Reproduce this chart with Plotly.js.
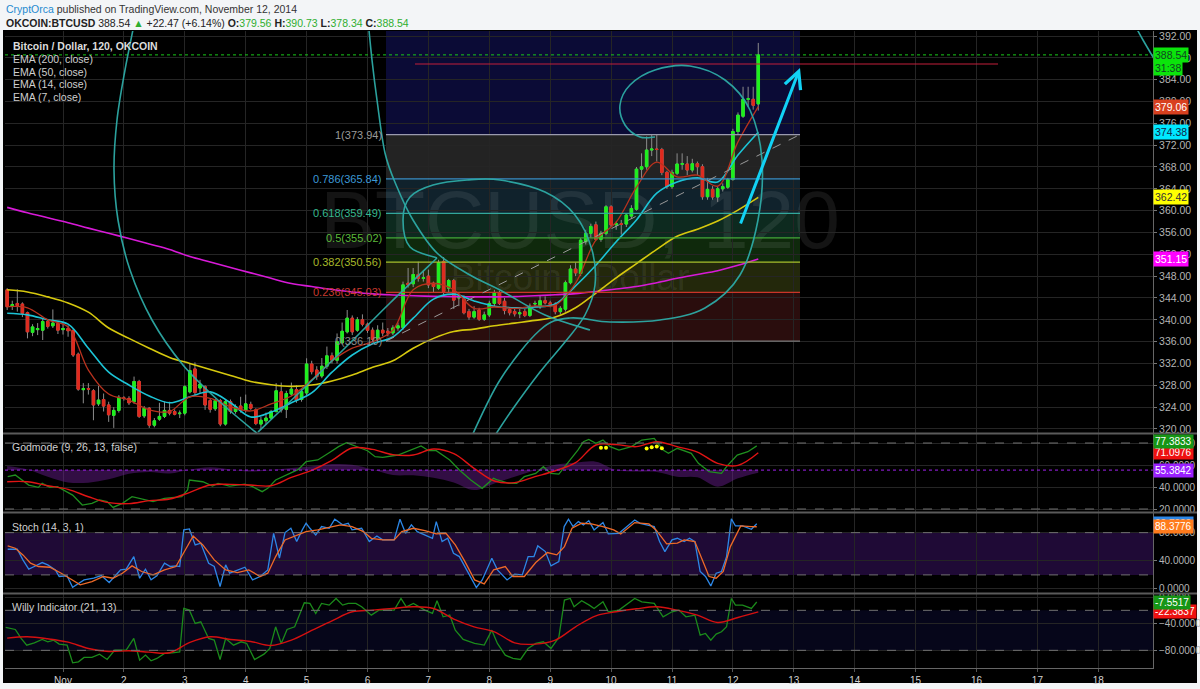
<!DOCTYPE html>
<html><head><meta charset="utf-8">
<script src="https://cdn.plot.ly/plotly-3.0.1.min.js"></script>
<style>html,body{margin:0;padding:0;background:#f3f5f7;}#chart{width:1200px;height:689px;}</style>
</head><body><div id="chart"></div>
<script>
// ---------------- DATA ----------------
// 2-hour OKCOIN BTCUSD bars, first bar Oct 31 02:00 (hours counted from Nov 1 00:00)
const firstBarHour = -22;
const barStepHours = 2;
const barOpen  = [345.5,342.5,343.0,342.9,341.3,337.7,338.2,338.1,339.7,338.9,339.3,338.2,338.4,338.0,333.7,327.2,327.4,327.0,324.6,325.4,324.4,322.5,323.4,325.7,325.6,325.0,328.7,322.4,323.8,320.7,321.8,322.3,323.4,323.2,322.8,322.9,326.8,331.0,327.5,327.75,325.2,323.7,325.2,320.9,325.0,323.2,324.2,323.4,324.5,323.5,320.9,321.5,322.0,323.2,326.8,323.6,326.4,327.2,325.4,326.6,331.9,330.8,329.7,331.5,333.4,332.6,335.8,337.8,340.3,338.1,340.0,339.2,338.1,336.4,338.1,337.9,337.6,338.5,338.6,346.7,346.6,348.3,347.6,348.0,346.7,345.8,350.7,345.8,347.2,344.0,343.8,341.5,340.5,341.8,340.1,340.9,343.0,345.0,343.4,341.9,341.5,341.1,341.5,340.8,342.9,342.4,343.5,343.1,342.85,341.5,341.95,346.8,349.3,348.5,354.3,355.85,357.4,354.75,355.85,360.7,357.4,357.6,357.55,359.0,360.25,367.6,368.05,371.1,371.3,371.2,367.0,364.4,366.85,368.5,368.55,367.45,368.6,368.05,362.55,363.9,362.5,364.0,364.3,365.7,374.5,377.3,380.4,380.4,379.56];
const barHigh  = [345.8,343.5,345.6,343.2,341.5,339.2,339.4,340.3,340.0,341.9,339.7,339.4,339.0,338.3,334.0,328.4,328.4,327.3,327.9,326.5,325.0,324.0,326.2,326.0,326.0,329.6,329.0,324.2,324.0,322.0,324.8,325.0,325.0,323.6,323.4,328.0,332.0,332.2,329.0,328.0,325.5,325.5,325.5,325.5,325.4,324.5,325.9,326.3,325.0,323.8,322.2,323.0,323.5,328.4,328.5,327.0,328.5,328.0,327.5,332.95,332.5,331.5,333.0,335.1,334.0,337.5,339.5,341.8,340.8,340.5,341.0,339.5,338.6,339.0,339.5,338.5,339.0,339.5,347.0,349.5,349.5,350.65,349.0,349.2,347.0,351.0,351.5,347.5,347.5,345.0,344.5,342.0,342.5,342.2,341.5,343.5,345.5,345.3,344.0,342.3,342.0,342.0,342.0,343.0,343.5,344.5,344.3,343.5,343.2,342.5,347.2,350.0,350.5,355.0,356.5,357.6,358.0,356.3,361.0,361.0,358.0,358.3,359.5,361.0,368.0,370.5,373.6,373.9,373.9,371.5,367.3,367.5,370.5,370.5,370.0,369.5,369.0,368.5,366.0,364.5,364.5,365.0,366.0,375.0,378.0,382.7,382.7,382.7,390.73];
const barLow   = [341.8,341.8,341.5,340.5,336.6,337.0,337.2,336.3,338.4,338.5,337.4,337.3,336.9,333.2,327.0,324.7,326.3,321.6,324.2,323.2,321.3,320.2,323.0,325.2,324.4,324.6,322.0,322.0,320.2,320.3,321.5,322.0,322.5,322.5,322.0,322.5,326.5,326.0,326.5,323.5,323.0,323.3,320.5,320.6,322.8,322.8,323.0,323.0,323.5,320.7,320.0,320.8,321.8,323.0,323.0,322.0,326.0,324.8,325.0,326.2,330.0,329.0,329.3,331.0,332.0,332.0,335.5,337.5,337.2,337.8,338.8,337.6,336.0,336.0,337.0,337.0,337.2,338.0,338.2,345.9,346.0,347.0,347.0,345.8,345.0,345.5,344.5,345.0,342.0,342.5,341.0,340.0,340.2,339.8,339.8,340.5,342.5,342.7,341.0,340.8,340.6,340.3,340.5,340.5,342.3,342.0,342.8,342.3,341.0,341.0,341.5,346.5,348.0,348.0,353.8,355.0,354.5,354.3,355.5,357.0,356.5,355.6,357.0,358.5,360.0,366.0,367.5,370.0,369.0,366.5,364.0,364.0,366.5,367.5,366.5,367.0,366.5,362.0,362.0,362.0,361.6,363.5,364.0,365.5,374.0,377.0,379.0,378.5,378.34];
const barClose = [342.4,342.8,342.6,341.2,337.8,338.7,338.4,339.7,338.8,339.4,338.1,338.4,338.0,333.55,327.3,327.4,327.3,324.4,325.3,324.2,322.6,323.4,325.8,325.6,324.8,328.7,322.3,323.8,320.7,321.5,322.3,323.4,322.9,322.7,322.9,327.75,330.7,326.7,328.2,324.4,323.6,325.2,320.9,325.0,323.2,324.1,323.4,324.6,323.8,321.0,321.6,322.0,323.2,327.0,323.5,326.5,327.3,325.3,326.85,331.9,330.5,329.6,331.5,333.4,332.6,336.0,337.9,340.3,337.8,340.0,339.2,338.1,336.4,338.1,337.6,337.6,338.5,338.9,346.4,346.4,348.3,347.6,347.7,346.4,346.1,350.5,345.2,347.2,343.6,344.2,341.3,340.5,341.5,340.1,340.9,343.0,345.0,343.0,341.7,341.3,341.1,341.3,340.8,342.5,343.0,343.5,343.1,342.8,341.5,342.1,346.8,349.3,348.6,354.6,355.85,357.1,354.75,355.85,360.7,357.4,357.6,357.5,359.2,360.4,367.6,368.05,371.1,371.3,371.2,367.0,364.4,367.0,368.55,368.6,367.45,368.6,368.05,362.55,363.9,362.5,364.0,364.4,365.7,374.5,377.5,380.4,380.5,379.3,388.54];

// EMA and smooth indicator values sampled every 4th bar
const indicatorStep = 4;
const ema200 = [360.6,359.6,358.7,357.8,356.8,355.85,354.9,353.9,352.9,351.6,350.6,349.6,348.6,347.6,346.65,346.1,345.55,345.1,344.75,344.55,344.4,344.3,344.25,344.2,344.2,344.25,344.4,344.6,344.8,345.2,345.65,346.1,346.8,347.6,348.3,349.0,350.0,351.15];
const ema50  = [345.5,345.1,344.2,343.1,341.4,338.5,336.6,334.8,333.1,332.0,330.9,329.8,328.7,328.1,327.8,328.05,328.8,329.9,331.3,332.5,334.8,336.6,337.85,338.3,338.9,339.4,339.9,340.5,342.2,344.9,347.7,350.3,352.9,355.3,356.6,358.1,360.1,362.42];
const ema14  = [341.2,340.9,340.0,339.2,334.8,330.4,328.05,326.05,324.8,325.9,326.8,324.8,322.2,323.1,324.8,326.6,330.4,333.55,335.6,336.85,340.3,343.8,344.7,343.45,342.5,342.2,342.35,342.9,346.2,350.0,354.3,358.3,363.2,365.25,366.0,365.25,370.2,374.38];
const ema7   = [342.4,342.2,340.0,338.7,330.8,326.4,325.3,323.5,323.2,325.9,325.6,324.1,323.3,324.6,326.05,329.0,332.45,334.8,336.0,338.1,345.5,346.7,345.5,342.1,342.35,342.1,342.55,342.7,346.7,354.6,357.9,364.3,368.9,366.2,366.5,364.5,372.6,379.06];
const godRed   = [44.8,44.8,41.2,37.9,31.2,25.8,24.9,27.6,29.1,35.2,41.8,42.4,41.8,41.2,48.8,55.2,64.2,75.5,74.2,69.4,69.1,74.5,70.3,57.0,45.5,44.0,49.4,54.8,62.1,78.2,78.5,76.7,81.2,76.7,71.8,61.5,59.7,71.0976];
const godWave  = [59.1,56.0,49.4,44.2,44.0,47.0,52.1,53.7,52.4,55.8,57.9,56.0,54.0,55.5,57.2,58.8,60.9,60.3,56.0,50.9,50.6,48.5,44.2,37.3,43.3,49.4,55.2,60.3,62.1,63.0,55.5,54.0,53.7,49.4,48.8,40.3,47.9,53.0];
const willyRed = [-61.7,-59.7,-62.7,-67.7,-77.2,-81.7,-80.7,-82.7,-83.7,-68.2,-59.7,-63.7,-66.7,-72.7,-64.7,-50.2,-35.7,-22.2,-19.7,-17.2,-14.7,-17.2,-33.2,-44.7,-52.2,-68.7,-70.7,-64.7,-44.7,-28.2,-22.2,-17.7,-14.7,-19.7,-27.2,-38.2,-30.7,-22.3837];
const godMidLevel = 55.3842;

// jagged indicator lines read point by point (hours from Nov 1 00:00, value)
const godGreenHours = [-21.8,-18.8,-13.5,-9.7,-8.2,-5.2,-2.2,3.8,7.6,11.4,14.4,17.4,19.7,23.4,27.2,32.5,35.5,40.0,44.5,46.8,49.1,49.8,55.1,58.9,61.1,65.7,71.7,74.7,78.5,80.7,83.8,89.8,92.8,95.8,100.4,104.9,108.6,111.7,115.4,120.0,123.0,126.0,132.0,137.3,141.1,144.1,147.1,152.4,156.2,160.7,165.2,169.7,171.2,175.8,178.8,181.8,186.3,189.3,192.3,195.4,199.9,202.9,205.1,207.2,210.0,212.8,215.6,219.1,224.0,228.1,233.0,236.5,238.6,242.1,247.6,250.4,254.6,259.5,261.5,265.7,269.9,273.4];
const godGreenValues = [49.4,50.9,41.8,39.7,43.3,39.7,40.3,32.7,23.6,25.2,28.2,26.7,21.5,25.2,31.2,28.2,26.7,29.7,30.3,31.2,37.3,46.4,44.8,40.9,43.3,40.9,42.7,40.3,35.8,38.8,46.4,53.0,56.0,63.0,64.6,71.2,76.7,80.3,77.3,73.0,67.6,67.0,69.1,73.6,77.3,73.0,73.0,64.6,55.5,46.4,38.8,47.9,46.4,43.3,43.3,49.4,52.4,58.5,52.4,51.8,64.6,73.6,81.2,83.3,79.7,82.7,76.7,73.6,76.7,82.7,84.2,73.6,70.6,75.2,70.6,61.5,54.0,52.5,58.5,69.1,72.1,77.3833];
const godDotHours  = [212,214,230,232,234,236];
const godDotValues = [75.6,75.6,75.0,76.2,76.8,75.3];

const stochKHours = [-21.8,-18.0,-15.8,-13.5,-11.3,-8.2,-6.0,-3.0,-1.5,1.6,3.8,6.1,8.3,12.1,15.1,18.2,20.4,22.7,24.9,27.9,30.2,32.5,34.7,37.0,40.0,42.3,44.5,46.0,47.6,49.8,52.1,54.3,57.4,59.6,61.9,64.1,65.7,68.7,71.7,74.7,77.7,80.7,83.0,85.3,87.5,89.8,92.1,94.3,95.8,97.3,99.6,101.9,104.9,107.1,110.2,112.4,113.9,117.7,120.7,123.7,126.0,130.5,132.8,135.0,137.3,139.6,142.6,145.6,147.1,149.4,151.6,153.9,156.2,159.2,162.9,165.2,169.0,171.2,175.0,178.0,181.0,183.3,185.6,187.1,190.1,192.3,195.4,197.5,199.2,201.0,203.1,205.1,207.2,209.3,212.8,214.9,219.1,225.3,227.4,233.0,235.1,237.2,240.0,242.1,244.8,246.9,249.0,251.1,253.2,255.3,257.4,259.5,261.5,263.4,265.0,267.8,271.3,273.4];
const stochKValues = [56.4,56.4,41.3,28.1,31.9,37.5,34.2,27.1,17.7,18.6,2.5,8.2,12.9,15.3,19.1,9.2,17.7,27.1,28.1,46.0,15.3,28.1,12.9,18.6,36.6,31.9,32.8,31.9,83.9,85.3,62.6,65.0,36.6,31.9,3.5,34.2,22.4,27.1,30.9,12.9,17.7,27.1,79.1,43.7,80.1,86.2,67.3,83.9,93.3,86.2,76.8,88.6,86.2,99.0,91.0,93.3,83.9,86.2,67.3,75.3,69.7,69.7,99.0,79.1,91.0,81.5,76.8,72.0,95.7,67.3,72.0,50.8,46.0,27.1,2.1,12.9,43.7,27.1,12.9,21.0,20.0,46.0,46.0,61.2,53.1,32.8,38.9,88.6,99.0,88.6,95.7,91.0,97.1,83.9,94.3,78.2,79.1,98.0,93.3,88.6,67.3,53.1,69.7,72.0,67.3,72.0,67.3,24.8,17.7,4.4,22.4,24.8,46.0,99.6,89.5,89.5,84.8,92.7];
const stochDHours = [-21.8,-18.8,-15.8,-12.8,-9.7,-5.2,-0.7,3.1,6.8,11.4,15.9,19.7,23.4,27.2,31.0,35.5,40.0,44.5,47.6,51.3,55.1,59.6,64.1,68.7,73.2,77.7,80.7,83.8,87.5,92.1,95.8,100.4,104.9,109.4,113.9,118.4,121.5,126.0,130.5,133.5,138.1,142.6,147.1,150.9,154.6,158.4,162.2,166.0,169.7,174.3,177.3,181.8,186.3,190.9,194.6,197.6,200.6,204.4,208.2,212.8,217.0,219.8,225.3,230.9,233.7,237.9,242.1,244.8,249.0,251.8,254.6,257.4,260.2,263.0,267.1,271.3,273.4];
const stochDValues = [61.2,57.9,48.4,36.6,31.9,30.9,22.4,13.9,5.9,10.6,17.7,15.3,22.4,32.8,24.8,20.0,27.1,31.9,50.8,75.3,62.6,41.3,27.1,23.3,27.1,17.7,22.4,46.0,69.7,76.8,81.5,83.9,87.6,91.0,88.6,81.5,72.0,69.7,69.7,81.5,86.2,82.9,78.2,79.1,62.6,38.9,12.9,7.3,27.1,31.9,17.7,17.7,37.5,51.7,48.4,60.2,86.2,93.3,92.4,88.6,83.9,78.2,94.3,92.4,83.9,64.0,65.0,69.7,67.3,43.7,17.7,15.3,24.8,60.2,89.5,88.6,88.3776];

const willyGreenHours = [-22.6,-18.8,-16.5,-14.3,-11.3,-8.2,-6.0,-3.7,-1.5,1.6,3.8,6.1,8.3,11.4,14.4,17.4,20.4,24.9,27.9,30.2,32.5,34.7,37.0,40.0,43.0,46.0,47.6,49.8,52.1,54.3,57.4,59.6,61.9,64.1,67.2,70.2,72.4,75.5,79.2,81.5,83.8,86.0,88.3,91.3,95.1,97.3,99.6,101.9,104.9,107.6,110.2,112.4,115.4,117.7,121.5,124.5,127.5,130.5,133.2,135.3,138.1,140.3,142.6,145.6,147.4,149.8,152.4,154.6,157.7,162.2,166.0,169.0,171.2,174.3,177.3,180.3,183.3,186.3,189.3,192.3,195.4,197.6,199.9,201.4,204.4,207.4,209.3,212.8,214.9,219.1,225.3,228.1,233.0,236.5,240.0,242.7,245.5,249.0,251.1,253.2,255.3,257.4,259.5,261.5,263.4,265.0,267.8,271.3,273.4];
const willyGreenValues = [-45.7,-48.7,-62.2,-72.2,-68.7,-63.7,-67.2,-64.7,-70.7,-72.2,-98.7,-97.2,-90.7,-90.7,-85.7,-93.7,-79.7,-79.7,-62.2,-94.7,-87.2,-95.7,-92.2,-84.7,-83.7,-82.2,-17.2,-19.7,-39.7,-37.2,-62.2,-64.7,-93.7,-62.2,-72.2,-67.2,-69.7,-93.7,-85.7,-77.2,-44.7,-69.7,-48.7,-44.7,-8.7,-9.7,-24.7,-9.7,-12.2,-2.2,-12.2,-9.7,-9.7,-14.7,-27.2,-19.7,-19.7,-19.7,-2.2,-14.7,-9.7,-14.7,-19.7,-24.7,-5.7,-29.7,-27.2,-49.7,-63.7,-69.7,-72.2,-49.7,-69.7,-87.2,-92.2,-93.7,-77.2,-69.7,-67.2,-77.2,-60.7,-4.7,-2.2,-14.7,-5.7,-12.2,-17.2,-7.2,-22.2,-19.7,-2.2,-7.2,-9.7,-29.7,-22.2,-19.7,-29.7,-27.2,-57.2,-54.7,-64.7,-55.7,-52.2,-44.7,-2.2,-12.2,-12.2,-17.2,-7.5517];

const dayTickLabels = ["Nov","2","3","4","5","6","7","8","9","10","11","12","13","14","15","16","17","18"];

// Fibonacci retracement drawn on the chart
const fibRatios = [1.618,1,0.786,0.618,0.5,0.382,0.236,0];
const fibLevels = [397.33,373.94,365.84,359.49,355.02,350.56,345.03,336.10];
const horizontalLineLevel = 386.87;

// ---------------- GEOMETRY ----------------
const PL=5, PR=1153, PT=31, PB=668;
const hx = px => (px-63)/2.5375;                 // pixel x -> hours
const pp = py => 392-(py-36)/5.458;              // pixel y -> price (main pane)
const paperX = px => (px-PL)/(PR-PL);
const paperY = py => (PB-py)/(PB-PT);

const barTimes = barOpen.map((_,k)=>firstBarHour+k*barStepHours);
const sampleTimes = barTimes.filter((_,k)=>k%indicatorStep===0);
const bodyHigh = barOpen.map((o,i)=>Math.max(o,barClose[i]));
const bodyLow  = barOpen.map((o,i)=>Math.min(o,barClose[i]));
const last = a => a[a.length-1];

const SANS='"Liberation Sans",Arial,sans-serif';

const traces = [
  {type:'candlestick',x:barTimes,open:barOpen,high:barHigh,low:barLow,close:barClose,
   increasing:{line:{color:'#8c8c8c',width:1},fillcolor:'#8c8c8c'},
   decreasing:{line:{color:'#8c8c8c',width:1},fillcolor:'#8c8c8c'},whiskerwidth:0,hoverinfo:'skip'},
  {type:'candlestick',x:barTimes,open:barOpen,high:bodyHigh,low:bodyLow,close:barClose,
   increasing:{line:{color:'#1df01d',width:1},fillcolor:'#1df01d'},
   decreasing:{line:{color:'#e02a1e',width:1},fillcolor:'#e02a1e'},whiskerwidth:0,hoverinfo:'skip'},
  {type:'scatter',mode:'lines',x:sampleTimes,y:ema200,line:{color:'#d81ad8',width:1.6,shape:'spline'}},
  {type:'scatter',mode:'lines',x:sampleTimes,y:ema50,line:{color:'#d6c80e',width:1.6,shape:'spline'}},
  {type:'scatter',mode:'lines',x:sampleTimes,y:ema14,line:{color:'#1cc4d6',width:1.6,shape:'spline'}},
  {type:'scatter',mode:'lines',x:sampleTimes,y:ema7,line:{color:'#b8321e',width:1.3,shape:'spline'}},
  // godmode
  {type:'scatter',mode:'lines',x:sampleTimes,y:sampleTimes.map(()=>godMidLevel),yaxis:'y2',line:{width:0},hoverinfo:'skip'},
  {type:'scatter',mode:'lines',x:sampleTimes,y:godWave,yaxis:'y2',fill:'tonexty',fillcolor:'rgba(110,30,150,0.45)',line:{width:0,shape:'spline'}},
  {type:'scatter',mode:'lines',x:godGreenHours,y:godGreenValues,yaxis:'y2',line:{color:'#1f8f1f',width:1.3}},
  {type:'scatter',mode:'lines',x:sampleTimes,y:godRed,yaxis:'y2',line:{color:'#e01414',width:1.4,shape:'spline'}},
  {type:'scatter',mode:'markers',x:godDotHours,y:godDotValues,yaxis:'y2',marker:{color:'#ffff00',size:4}},
  // stoch
  {type:'scatter',mode:'lines',x:stochKHours,y:stochKValues,yaxis:'y3',line:{color:'#2d87e6',width:1.3}},
  {type:'scatter',mode:'lines',x:stochDHours,y:stochDValues,yaxis:'y3',line:{color:'#ee6a28',width:1.3}},
  // willy
  {type:'scatter',mode:'lines',x:willyGreenHours,y:willyGreenValues,yaxis:'y4',line:{color:'#1b8a1b',width:1.3}},
  {type:'scatter',mode:'lines',x:sampleTimes,y:willyRed,yaxis:'y4',line:{color:'#d41010',width:1.4,shape:'spline'}}
];

function smoothPath(pts){
  const d = pts.map(([x,y])=>[hx(x),pp(y)]);
  let s = 'M'+d[0][0]+','+d[0][1];
  for(let i=0;i<d.length-1;i++){
    const p0=d[i-1]||d[i], p1=d[i], p2=d[i+1], p3=d[i+2]||d[i+1];
    const c1=[p1[0]+(p2[0]-p0[0])/6, p1[1]+(p2[1]-p0[1])/6];
    const c2=[p2[0]-(p3[0]-p1[0])/6, p2[1]-(p3[1]-p1[1])/6];
    s+=' C'+c1[0]+','+c1[1]+' '+c2[0]+','+c2[1]+' '+p2[0]+','+p2[1];
  }
  return s;
}
const TEAL='rgba(45,170,165,0.95)';
const drawCurves = [
  [[135,20],[125,70],[117,120],[114,170],[118,220],[130,270],[152,320],[183,365],[220,402],[265,440]],
  [[258,432],[300,392],[345,348],[390,303],[437,258]],
  [[437,258],[410,247],[403,220],[410,197],[433,185],[467,180],[500,180],[545,192],[575,215],[592,250],[595,285],[585,315],[565,342],[540,372],[512,410],[492,440]],
  [[368,20],[372,60],[377,100],[385,153],[397,187],[413,220],[437,253],[470,275],[500,290],[545,315],[590,330]],
  [[655,137],[640,137],[625,125],[620,105],[630,85],[655,70],[690,66],[725,80],[750,110],[762,160],[758,220],[740,275],[705,308],[660,320],[610,322],[570,318],[540,330],[500,380],[470,440]],
  [[1132,20],[1143,40],[1156,62]]
];

const fibColors = {line:['#4a4a9a','#9a9aae','#3d8fc4','#33a79a','#45a83a','#a9c02c','#c93528','#7a7a7a'],
  fill:['#0b0b36','#232323','#10222c','#0d2a1f','#0f290c','#23280b','#2a0d0d']};
const fibX0 = hx(386), fibX1 = hx(800);

const shapes = [
  {type:'rect',xref:'paper',yref:'paper',x0:paperX(3),x1:paperX(1197),y0:paperY(683),y1:paperY(30),fillcolor:'#000',line:{width:0},layer:'below'},
  {type:'rect',xref:'paper',yref:'y3',x0:0,x1:1,y0:20,y1:80,fillcolor:'#1f0a36',line:{width:0},layer:'below'},
  {type:'rect',xref:'paper',yref:'y4',x0:0,x1:1,y0:-80,y1:-20,fillcolor:'#06061a',line:{width:0},layer:'below'}
];
for(let i=0;i<fibLevels.length-1;i++){
  shapes.push({type:'rect',xref:'x',yref:'y',x0:fibX0,x1:fibX1,y0:fibLevels[i+1],y1:fibLevels[i],fillcolor:fibColors.fill[i],line:{width:0},layer:'below'});
}
// watermark (same layer as the fib fills, drawn after them)
shapes.push({type:'rect',xref:'x',yref:'y',x0:hx(320),x1:hx(840),y0:pp(250),y1:pp(172),line:{width:0},layer:'below',
   label:{text:'BTCUSD, 120',font:{family:SANS,size:82,color:'rgba(255,255,255,0.08)'},textposition:'middle center'}});
shapes.push({type:'rect',xref:'x',yref:'y',x0:hx(420),x1:hx(720),y0:pp(293),y1:pp(253),line:{width:0},layer:'below',
   label:{text:'Bitcoin / Dollar',font:{family:SANS,size:37,color:'rgba(255,255,255,0.08)'},textposition:'middle center'}});
for(let i=1;i<fibLevels.length;i++){
  shapes.push({type:'line',xref:'x',yref:'y',x0:fibX0,x1:fibX1,y0:fibLevels[i],y1:fibLevels[i],line:{color:fibColors.line[i],width:1.2}});
}
shapes.push({type:'line',xref:'x',yref:'y',x0:fibX0,x1:fibX1,y0:last(fibLevels),y1:fibLevels[1],line:{color:'#9a9a9a',width:1,dash:'dash'}});
shapes.push({type:'line',xref:'x',yref:'y',x0:hx(415),x1:hx(998),y0:horizontalLineLevel,y1:horizontalLineLevel,line:{color:'#c21e3a',width:1.2}});
shapes.push({type:'line',xref:'paper',yref:'y',x0:0,x1:1,y0:last(barClose),y1:last(barClose),line:{color:'#19c819',width:1,dash:'dot'}});
[[ 'y2',80],['y2',20],['y3',80],['y3',20],['y4',-20],['y4',-80]].forEach(([ax,v])=>{
  shapes.push({type:'line',xref:'paper',yref:ax,x0:0,x1:1,y0:v,y1:v,line:{color:'#707070',width:1,dash:'dash'}});
});
shapes.push({type:'line',xref:'paper',yref:'y2',x0:0,x1:1,y0:godMidLevel,y1:godMidLevel,line:{color:'#a020f0',width:1,dash:'dot'}});
drawCurves.forEach(c=>shapes.push({type:'path',xref:'x',yref:'y',path:smoothPath(c),line:{color:TEAL,width:1.6}}));
[433.5,512.5,593.5].forEach(py=>shapes.push({type:'line',xref:'paper',yref:'paper',x0:paperX(3),x1:paperX(1197),y0:paperY(py),y1:paperY(py),line:{color:'#5a5a5a',width:2}}));

const ann = [];
function txt(px,py,text,opt){ann.push(Object.assign({xref:'paper',yref:'paper',x:paperX(px),y:paperY(py),xanchor:'left',yanchor:'middle',text,showarrow:false,font:{family:SANS,size:11,color:'#d8d8d8'}},opt||{}));}
// header
txt(4,9,'<span style="color:#1e8ad0">CryptOrca</span> published on TradingView.com, November 12, 2014',{font:{family:SANS,size:10.5,color:'#333'}});
const lastC = last(barClose);
const G = s=>'<span style="color:#2fae2f">'+s+'</span>';
txt(4,23,'<b>OKCOIN:BTCUSD</b> '+lastC.toFixed(2)+' <span style="color:#2fae2f">▲</span> +22.47 (+6.14%) <b>O:</b>'+G(last(barOpen).toFixed(2))+' <b>H:</b>'+G(last(barHigh).toFixed(2))+' <b>L:</b>'+G(last(barLow).toFixed(2))+' <b>C:</b>'+G(lastC.toFixed(2)),{font:{family:SANS,size:10.5,color:'#222'}});
// legends
txt(11,46,'<b>Bitcoin / Dollar, 120, OKCOIN</b>',{font:{family:SANS,size:10.5,color:'#dcdcdc'}});
['EMA (200, close)','EMA (50, close)','EMA (14, close)','EMA (7, close)'].forEach((t,i)=>txt(11,59+i*12.7,t,{font:{family:SANS,size:10.5,color:'#cfcfcf'}}));
txt(10,447,'Godmode (9, 26, 13, false)',{font:{family:SANS,size:10.5,color:'#cfcfcf'}});
txt(10,527,'Stoch (14, 3, 1)',{font:{family:SANS,size:10.5,color:'#cfcfcf'}});
txt(10,607,'Willy Indicator (21, 13)',{font:{family:SANS,size:10.5,color:'#cfcfcf'}});
// fib labels
const fibLabelColors=['#9a9a9a','#3d9ad6','#36b88f','#5cb83a','#a8b82a','#c83a2e','#8a8a8a'];
for(let i=1;i<fibLevels.length;i++){
  ann.push({xref:'x',yref:'y',x:fibX0-0.8,y:fibLevels[i],xanchor:'right',yanchor:'middle',showarrow:false,
    text:fibRatios[i]+'('+fibLevels[i].toFixed(2)+')',font:{family:SANS,size:11,color:fibLabelColors[i-1]}});
}
// arrow
ann.push({xref:'x',yref:'y',axref:'x',ayref:'y',x:hx(800),y:pp(68),ax:hx(740),ay:pp(225),showarrow:true,arrowhead:5,arrowsize:1.1,arrowwidth:3,arrowcolor:'#12d2f5',text:''});
// price tags
function tag(yref,y,text,bg,fg,yshift,size){ann.push({xref:'paper',x:1,xanchor:'left',yref,y,yanchor:'middle',yshift:yshift||0,text,showarrow:false,bgcolor:bg,borderpad:1,font:{family:SANS,size:size||10.5,color:fg}});}
tag('y',last(ema200),last(ema200).toFixed(2),'#ff00ff','#fff');
tag('y',last(ema50),last(ema50).toFixed(2),'#ffff00','#333');
tag('y',last(ema14),last(ema14).toFixed(2),'#00e8ff','#124');
tag('y',last(ema7),last(ema7).toFixed(2),'#d8401f','#fff');
tag('y',lastC,lastC.toFixed(2),'#0be40b','#142');
tag('y',lastC,'31:38','#0be40b','#142',-13);
tag('y2',godMidLevel,godMidLevel.toFixed(4),'#9b1fff','#fff',0,10);
tag('y2',last(godRed),last(godRed).toFixed(4),'#ee1111','#fff',0,10);
tag('y2',last(godGreenValues),last(godGreenValues).toFixed(4),'#169616','#fff',4,10);
tag('y3',last(stochKValues),last(stochKValues).toFixed(4),'#2d87e6','#fff',0,10);
tag('y3',last(stochDValues),last(stochDValues).toFixed(4),'#ff7b1c','#fff',0,10);
tag('y4',last(willyRed),last(willyRed).toFixed(4),'#ee1111','#fff',0,10);
tag('y4',last(willyGreenValues),last(willyGreenValues).toFixed(4),'#169616','#fff',0,10);

const grid='#252525';
const yCommon={side:'right',showgrid:true,gridcolor:grid,zeroline:false,showline:true,linecolor:'#666',linewidth:1,ticks:'outside',ticklen:3,tickcolor:'#777',tickfont:{family:SANS,size:10,color:'#b4b4b4'},fixedrange:true,anchor:'x'};
const mainTicks=[]; for(let v=320; v<=392; v+=4) mainTicks.push(v);
const layout={
  width:1200,height:689,margin:{l:PL,r:1200-PR,t:PT,b:689-PB},
  paper_bgcolor:'#f3f5f7',plot_bgcolor:'#000',showlegend:false,hovermode:false,
  xaxis:{anchor:'y4',range:[hx(PL),hx(PR)],tickvals:dayTickLabels.map((_,i)=>i*24),ticktext:dayTickLabels,showgrid:true,gridcolor:grid,zeroline:false,
    showline:true,linecolor:'#666',ticks:'outside',ticklen:3,tickcolor:'#555',tickfont:{family:SANS,size:10,color:'#d0d0d0'},rangeslider:{visible:false},fixedrange:true},
  yaxis:Object.assign({},yCommon,{domain:[paperY(433),1],range:[pp(433),pp(PT)],tickvals:mainTicks,tickformat:'.2f',tickfont:{family:SANS,size:10.5,color:'#b4b4b4'}}),
  yaxis2:Object.assign({},yCommon,{domain:[paperY(512),paperY(434)],range:[17.3,88.2],tickvals:[20,40,60,80],tickformat:'.4f'}),
  yaxis3:Object.assign({},yCommon,{domain:[paperY(593),paperY(513)],range:[-5.7,107.9],tickvals:[0,40,80],tickformat:'.4f'}),
  yaxis4:Object.assign({},yCommon,{domain:[0,paperY(594)],range:[-106.5,4.5],tickvals:[0,-40,-80],tickformat:'.4f'}),
  shapes,annotations:ann
};
Plotly.newPlot('chart',traces,layout,{displayModeBar:false,staticPlot:true});
</script></body></html>
